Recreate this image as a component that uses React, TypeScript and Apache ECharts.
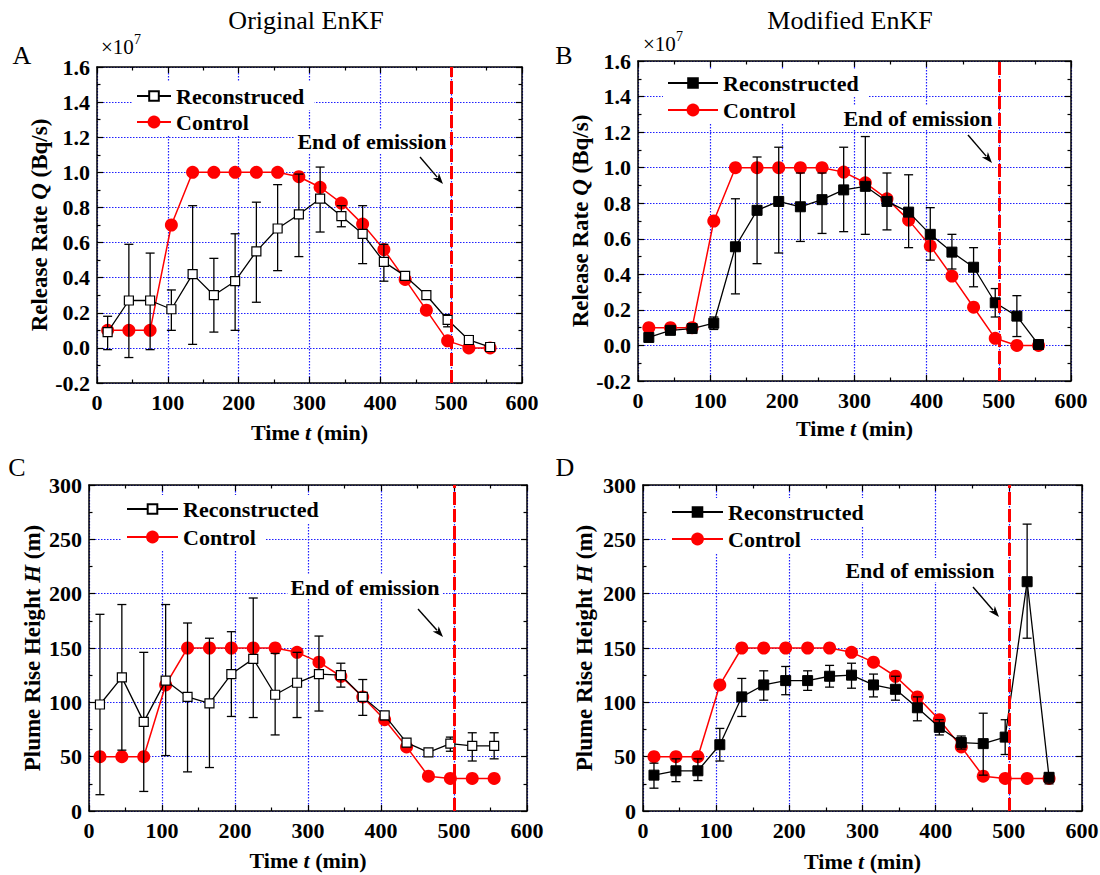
import React, { useEffect, useRef } from 'react';
import * as echarts from 'echarts';

// ---------- data ----------
const times = [15, 45, 75, 105, 135, 165, 195, 225, 255, 285, 315, 345, 375, 405, 435, 465, 495, 525, 555];
const emissionEnd = 500;

// A: Original EnKF, release rate (x1e7 Bq/s)
const recQOrig = [0.09, 0.27, 0.27, 0.22, 0.42, 0.30, 0.38, 0.55, 0.68, 0.76, 0.85, 0.75, 0.65, 0.49, 0.41, 0.30, 0.16, 0.045, 0.005];
const recQOrigLo = [-0.01, -0.055, -0.01, 0.10, 0.02, 0.09, 0.10, 0.26, 0.44, 0.52, 0.66, 0.69, 0.48, 0.38, 0.39, 0.28, 0.12, 0.02, -0.005];
const recQOrigHi = [0.18, 0.59, 0.54, 0.33, 0.81, 0.51, 0.65, 0.83, 0.93, 0.99, 1.03, 0.81, 0.81, 0.59, 0.43, 0.32, 0.19, 0.07, 0.015];
const ctlQ = [0.1, 0.1, 0.1, 0.7, 1.0, 1.0, 1.0, 1.0, 1.0, 0.975, 0.915, 0.825, 0.705, 0.56, 0.39, 0.215, 0.04, 0, 0];

// B: Modified EnKF, release rate (x1e7 Bq/s)
const recQMod = [0.045, 0.085, 0.095, 0.125, 0.555, 0.76, 0.81, 0.78, 0.82, 0.875, 0.895, 0.81, 0.75, 0.625, 0.525, 0.44, 0.24, 0.165, 0.005];
const recQModLo = [0.04, 0.08, 0.09, 0.09, 0.29, 0.46, 0.52, 0.585, 0.63, 0.64, 0.625, 0.65, 0.55, 0.48, 0.43, 0.33, 0.16, 0.05, 0.0];
const recQModHi = [0.05, 0.09, 0.10, 0.16, 0.825, 1.06, 1.115, 0.97, 0.97, 1.115, 1.175, 0.97, 0.96, 0.775, 0.625, 0.55, 0.32, 0.28, 0.01];

// C: Original EnKF, plume rise height (m)
const recHOrig = [98, 123, 82, 120, 105, 99, 126, 140, 107, 118, 126, 125, 105, 88, 63, 54, 62, 60, 60];
const recHOrigLo = [15, 56, 18, 51, 36, 40, 87, 86, 70, 86, 92, 114, 88, 84, 60, 52, 55, 46, 48];
const recHOrigHi = [181, 190, 146, 190, 173, 159, 165, 196, 145, 146, 161, 136, 121, 91, 66, 56, 68, 72, 72];
const ctlH = [50, 50, 50, 116, 150, 150, 150, 150, 150, 146, 137, 124, 105, 84, 59, 32, 30, 30, 30];

// D: Modified EnKF, plume rise height (m)
const recHMod = [33, 37, 37, 61, 105, 116, 120, 120, 124, 125, 116, 112, 95, 77, 63, 62, 68, 211, 31];
const recHModLo = [21, 27, 28, 46, 87, 102, 107, 111, 114, 113, 105, 102, 83, 70, 57, 33, 52, 159, 25];
const recHModHi = [44, 48, 48, 76, 122, 129, 133, 129, 134, 136, 126, 124, 105, 84, 69, 90, 84, 264, 35];

const xTicks = { min: 0, max: 600, interval: 100 };
const qTicks = { min: -0.2, max: 1.6, interval: 0.2 };
const hTicks = { min: 0, max: 300, interval: 50 };

// ---------- style / layout ----------
const FONT = "'Liberation Serif', 'Times New Roman', serif";
const GRID_BLUE = '#1f1fff';

const xName = '{b|Time }{i|t}{b| (min)}';
const qName = '{b|Release Rate }{i|Q}{b| (Bq/s)}';
const hName = '{b|Plume Rise Height }{i|H}{b| (m)}';

const panels = [
  {
    key: 'A', grid: [97, 67, 425, 316], ticks: qTicks, dec: 1, yName: qName, yGap: 33, xGap: 38,
    rec: recQOrig, lo: recQOrigLo, hi: recQOrigHi, ctl: ctlQ, recLabel: 'Reconstruced', open: true,
    legLeft: 136, legW: 34, legY: [96, 122], text: [372, 141], arrow: [420, 157, 443, 184],
  },
  {
    key: 'B', grid: [638, 61, 433, 320], ticks: qTicks, dec: 1, yName: qName, yGap: 34, xGap: 36,
    rec: recQMod, lo: recQModLo, hi: recQModHi, ctl: ctlQ, recLabel: 'Reconstructed', open: false,
    legLeft: 667, legW: 50, legY: [83, 110], text: [918, 118], arrow: [968, 135, 992, 163],
  },
  {
    key: 'C', grid: [89, 485, 438, 326], ticks: hTicks, dec: 0, yName: hName, yGap: 45, xGap: 38,
    rec: recHOrig, lo: recHOrigLo, hi: recHOrigHi, ctl: ctlH, recLabel: 'Reconstructed', open: true,
    legLeft: 126, legW: 51, legY: [509, 537], text: [365, 587], arrow: [418, 609, 443, 637],
  },
  {
    key: 'D', grid: [643, 485, 439, 326], ticks: hTicks, dec: 0, yName: hName, yGap: 47, xGap: 39,
    rec: recHMod, lo: recHModLo, hi: recHModHi, ctl: ctlH, recLabel: 'Reconstructed', open: false,
    legLeft: 671, legW: 51, legY: [512, 539], text: [920, 570], arrow: [973, 587, 999, 617],
  },
];

const nameRich = {
  b: { fontFamily: FONT, fontSize: 22, fontWeight: 'bold', color: '#000' },
  i: { fontFamily: FONT, fontSize: 22, fontWeight: 'bold', fontStyle: 'italic', color: '#000' },
};
const yNameRich = {
  b: { fontFamily: FONT, fontSize: 23, fontWeight: 'bold', color: '#000' },
  i: { fontFamily: FONT, fontSize: 23, fontWeight: 'bold', fontStyle: 'italic', color: '#000' },
};

const labelStyle = { fontFamily: FONT, fontSize: 22, fontWeight: 'bold', color: '#000' };

function buildOption() {
  const grids: any[] = [];
  const xAxes: any[] = [];
  const yAxes: any[] = [];
  const series: any[] = [];
  const legends: any[] = [];
  const graphics: any[] = [];

  const axisLine = { show: true, onZero: false, lineStyle: { color: '#000', width: 1.5 } };
  const axisTick = { show: true, inside: true, length: 6, lineStyle: { color: '#000', width: 1.2 } };
  const minorTick = { show: true, splitNumber: 2, length: 3.5, lineStyle: { color: '#000', width: 1.2 } };
  const splitLine = { show: true, lineStyle: { color: GRID_BLUE, type: [1.5, 1.5], width: 1.2 } };

  panels.forEach((p, i) => {
    grids.push({ left: p.grid[0], top: p.grid[1], width: p.grid[2], height: p.grid[3], containLabel: false, outerBoundsMode: 'none', show: false });
    xAxes.push({
      type: 'value', gridIndex: i, position: 'bottom', ...xTicks,
      axisLine, axisTick, minorTick, splitLine,
      axisLabel: { show: true, margin: 8, ...labelStyle },
      name: xName, nameLocation: 'middle', nameGap: p.xGap,
      nameTextStyle: { rich: nameRich },
    });
    xAxes.push({
      type: 'value', gridIndex: i, position: 'top', ...xTicks,
      axisLine, axisTick, minorTick, splitLine: { show: false }, axisLabel: { show: false },
    });
    yAxes.push({
      type: 'value', gridIndex: i, position: 'left', min: p.ticks.min, max: p.ticks.max, interval: p.ticks.interval,
      axisLine, axisTick, minorTick, splitLine,
      axisLabel: { show: true, margin: 7, ...labelStyle, formatter: (v: number) => v.toFixed(p.dec) },
      name: p.yName, nameLocation: 'middle', nameGap: p.yGap, nameRotate: 90,
      nameTextStyle: { rich: yNameRich },
    });
    yAxes.push({
      type: 'value', gridIndex: i, position: 'right', min: p.ticks.min, max: p.ticks.max, interval: p.ticks.interval,
      axisLine, axisTick, minorTick, splitLine: { show: false }, axisLabel: { show: false },
    });

    const xi = 2 * i;
    const yi = 2 * i;
    const ctlName = p.key + '_ctl';
    const recName = p.key + '_rec';

    series.push({
      type: 'line', name: ctlName, xAxisIndex: xi, yAxisIndex: yi, z: 2,
      data: times.map((t, k) => [t, p.ctl[k]]),
      symbol: 'circle', symbolSize: 13, showAllSymbol: true,
      itemStyle: { color: '#ff0000' },
      lineStyle: { color: '#ff0000', width: 1.5 },
      emphasis: { disabled: true },
      markLine: {
        silent: true, symbol: ['none', 'none'], label: { show: false },
        lineStyle: { color: '#ff0000', width: 3, type: [13, 4] },
        emphasis: { disabled: true },
        data: [{ xAxis: emissionEnd }],
      },
    });
    series.push({
      type: 'custom', name: p.key + '_err', xAxisIndex: xi, yAxisIndex: yi, z: 3,
      data: times.map((t, k) => [t, p.lo[k], p.hi[k]]),
      encode: { x: 0, y: [1, 2] },
      renderItem: (_params: any, api: any) => {
        const x = api.value(0);
        const top = api.coord([x, api.value(2)]);
        const bot = api.coord([x, api.value(1)]);
        const hw = 4.5;
        const st = { stroke: '#000', lineWidth: 1.3 };
        return {
          type: 'group',
          children: [
            { type: 'line', shape: { x1: top[0], y1: top[1], x2: bot[0], y2: bot[1] }, style: st },
            { type: 'line', shape: { x1: top[0] - hw, y1: top[1], x2: top[0] + hw, y2: top[1] }, style: st },
            { type: 'line', shape: { x1: bot[0] - hw, y1: bot[1], x2: bot[0] + hw, y2: bot[1] }, style: st },
          ],
        };
      },
    });
    series.push({
      type: 'line', name: recName, xAxisIndex: xi, yAxisIndex: yi, z: 4,
      data: times.map((t, k) => [t, p.rec[k]]),
      symbol: 'rect', symbolSize: p.open ? 9 : 10, showAllSymbol: true,
      itemStyle: p.open ? { color: '#fff', borderColor: '#000', borderWidth: 1.2 } : { color: '#000', borderColor: '#000', borderWidth: 1 },
      lineStyle: { color: '#000', width: 1.3 },
      emphasis: { disabled: true },
    });

    const legText = { fontFamily: FONT, fontSize: 22, fontWeight: 'bold', color: '#000', lineHeight: 24 };
    legends.push({
      show: true, orient: 'vertical', left: p.legLeft - 4, top: p.legY[0] - 14,
      padding: [2, 10, 2, 4], backgroundColor: '#fff', itemWidth: p.legW, itemHeight: 12, itemGap: 0,
      selectedMode: false, data: [recName], formatter: () => p.recLabel, textStyle: legText, z: 5,
    });
    legends.push({
      show: true, orient: 'vertical', left: p.legLeft - 4, top: p.legY[1] - 14,
      padding: [2, 10, 2, 4], backgroundColor: '#fff', itemWidth: p.legW, itemHeight: 16, itemGap: 0,
      selectedMode: false, data: [ctlName], formatter: () => 'Control', textStyle: legText, z: 5,
    });

    graphics.push({
      type: 'text', z: 10,
      style: {
        text: 'End of emission', x: p.text[0], y: p.text[1], align: 'center', verticalAlign: 'middle',
        fontFamily: FONT, fontSize: 22, fontWeight: 'bold', fill: '#000', backgroundColor: '#fff', padding: [1, 3],
      },
    });
    const [x1, y1, x2, y2] = p.arrow;
    const dx = x2 - x1, dy = y2 - y1;
    const len = Math.sqrt(dx * dx + dy * dy);
    const ux = dx / len, uy = dy / len;
    const bx = x2 - ux * 11, by = y2 - uy * 11;
    graphics.push({
      type: 'line', z: 10,
      shape: { x1, y1, x2: bx + ux * 2, y2: by + uy * 2 },
      style: { stroke: '#000', lineWidth: 1.4 },
    });
    graphics.push({
      type: 'polygon', z: 10,
      shape: { points: [[x2, y2], [bx - uy * 4, by + ux * 4], [bx + ux * 3, by + uy * 3], [bx + uy * 4, by - ux * 4]] },
      style: { fill: '#000' },
    });
  });

  const titleText = (text: string, x: number, y: number, size: number) => ({
    type: 'text', z: 10,
    style: { text, x, y, align: 'center', verticalAlign: 'middle', fontFamily: FONT, fontSize: size, fill: '#000' },
  });
  graphics.push(titleText('Original EnKF', 306, 20, 26));
  graphics.push(titleText('Modified EnKF', 850, 20, 26));
  graphics.push(titleText('A', 22, 55, 26));
  graphics.push(titleText('B', 564, 55, 26));
  graphics.push(titleText('C', 17, 467, 26));
  graphics.push(titleText('D', 565, 467, 26));
  const expText = (x: number, y: number) => [
    { type: 'text', z: 10, style: { text: '×10', x, y, align: 'left', verticalAlign: 'middle', fontFamily: FONT, fontSize: 21, fill: '#000' } },
    { type: 'text', z: 10, style: { text: '7', x: x + 33, y: y - 8, align: 'left', verticalAlign: 'middle', fontFamily: FONT, fontSize: 14, fill: '#000' } },
  ];
  graphics.push(...expText(101, 47));
  graphics.push(...expText(643, 44));

  return {
    animation: false,
    backgroundColor: '#fff',
    grid: grids,
    xAxis: xAxes,
    yAxis: yAxes,
    series,
    legend: legends,
    graphic: graphics,
  };
}

export default function App() {
  const ref = useRef<HTMLDivElement>(null);
  useEffect(() => {
    if (!ref.current) return;
    const chart = echarts.init(ref.current, null, { renderer: 'svg' });
    chart.setOption(buildOption() as any);
    return () => chart.dispose();
  }, []);
  return (
    <div
      ref={ref}
      style={{ position: 'fixed', left: 0, top: 0, width: 1100, height: 875, background: '#fff' }}
    />
  );
}
